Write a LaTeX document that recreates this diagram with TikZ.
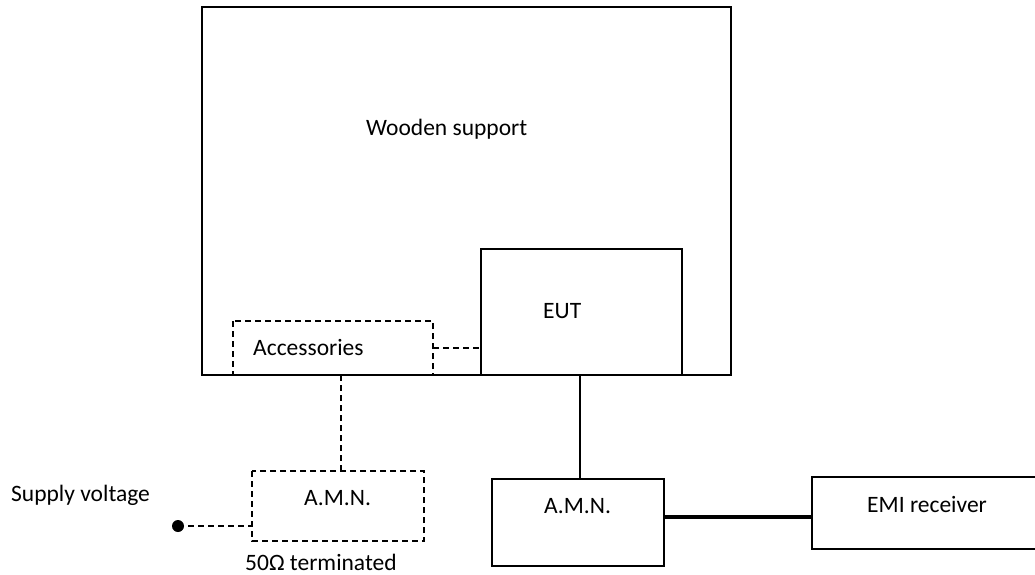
\documentclass[tikz,border=0pt]{standalone}
\usepackage{fontspec}
\setmainfont{Carlito}
\begin{document}
\begin{tikzpicture}[x=1pt,y=-1pt,
  box/.style={draw=black,line width=2pt},
  dbox/.style={draw=black,line width=1.6pt,dash pattern=on 6pt off 4pt},
  lbl/.style={font=\fontsize{23.5}{28}\selectfont,inner sep=0pt,anchor=base west},
  dline/.style={line width=1.6pt,dash pattern=on 6pt off 4pt},
  sline/.style={line width=1.5pt},
  tline/.style={line width=3.8pt}]
\useasboundingbox (0,0) rectangle (1035,574);
% wooden support
\draw[box] (202,7) rectangle (731,375);
\node[lbl] (wood) at (366,135) {Wooden support};
% EUT
\draw[box] (481,249) rectangle (682,375);
\coordinate (eutL) at (481,348);
\coordinate (eutB) at (580,375);
\node[lbl] (eut) at (543,318) {EUT};
% Accessories
\draw[dbox] (233,321) rectangle (433,375);
\coordinate (accR) at (433,348);
\coordinate (accB) at (341,375);
\node[lbl] (acc) at (253,355) {Accessories};
% dashed AMN
\draw[dbox] (252,471) rectangle (424,541);
\coordinate (amn1T) at (341,471);
\coordinate (amn1L) at (252,526);
\node[lbl] (amn1) at (304,505) {A.M.N.};
\node[lbl] (term) at (245,570) {50Ω terminated};
% supply
\node[lbl] (sup) at (11,501) {Supply voltage};
\fill (178,526) circle (6pt);
\coordinate (dot) at (178,526);
% AMN solid
\draw[box] (492,479) rectangle (664,566);
\coordinate (amn2T) at (580,479);
\coordinate (amn2R) at (664,517);
\node[lbl] (amn2) at (544,513) {A.M.N.};
% EMI receiver
\draw[box] (1040,477) -- (812,477) -- (812,549) -- (1040,549);
\coordinate (emiL) at (812,517);
\node[lbl] (emi) at (867,512) {EMI receiver};
% connectors
\draw[dline] (accR) -- (eutL);
\draw[dline] (accB) -- (amn1T);
\draw[dline] (dot) -- (amn1L);
\draw[sline] (eutB) -- (amn2T);
\draw[tline] (amn2R) -- (emiL);
\end{tikzpicture}
\end{document}
